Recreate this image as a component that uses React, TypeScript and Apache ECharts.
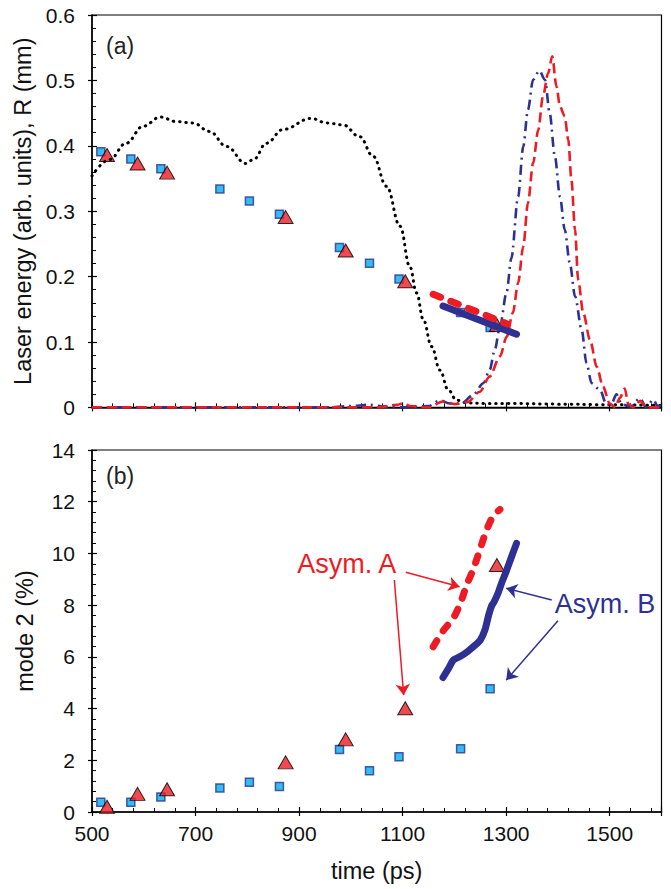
import React, { useEffect, useRef } from "react";
import * as echarts from "echarts";

const FONT = 'Arial, "Liberation Sans", Helvetica, sans-serif';
const RED = "#ED1C24";
const BLUE = "#2E3192";
const CYAN = "#00AEEF";

// ---- panel (a) ----
const laserT = [500, 534, 566, 599, 632, 663, 695, 727, 760, 797, 812, 837, 869, 923, 953, 985, 1017, 1043, 1069, 1095, 1114, 1127, 1140, 1156, 1172, 1188, 1204, 1224, 1260, 1300, 1400, 1500, 1600];
const laserE = [0.354, 0.379, 0.404, 0.43, 0.444, 0.437, 0.435, 0.422, 0.399, 0.373, 0.379, 0.404, 0.425, 0.442, 0.435, 0.432, 0.414, 0.384, 0.338, 0.277, 0.215, 0.175, 0.134, 0.093, 0.057, 0.027, 0.011, 0.007, 0.006, 0.006, 0.005, 0.004, 0.003];

const curveBT = [500, 950, 1000, 1035, 1070, 1100, 1150, 1172, 1191, 1214, 1236, 1256, 1268, 1278, 1288, 1301, 1310, 1323, 1333, 1342, 1352, 1364, 1375, 1384, 1394, 1404, 1413, 1423, 1433, 1446, 1455, 1465, 1481, 1494, 1503, 1513, 1523, 1540, 1558, 1571, 1584, 1594, 1600];
const curveBV = [0, 0, 0.002, 0.004, 0.001, 0, 0.002, 0.011, 0.006, 0.006, 0.019, 0.037, 0.057, 0.088, 0.124, 0.177, 0.228, 0.322, 0.399, 0.455, 0.501, 0.515, 0.501, 0.45, 0.384, 0.322, 0.272, 0.22, 0.17, 0.118, 0.068, 0.037, 0.027, 0.004, 0.005, 0.02, 0.005, 0.001, 0.014, 0, 0.012, 0, 0.005];

const curveAT = [500, 1050, 1090, 1100, 1115, 1150, 1178, 1201, 1225, 1249, 1268, 1288, 1301, 1313, 1323, 1333, 1342, 1352, 1362, 1371, 1381, 1389, 1397, 1404, 1413, 1420, 1426, 1433, 1439, 1449, 1462, 1475, 1487, 1500, 1510, 1520, 1529, 1536, 1546, 1559, 1570, 1600];
const curveAV = [0, 0, 0.004, 0.006, 0.002, 0, 0.009, 0.005, 0.008, 0.024, 0.047, 0.078, 0.108, 0.145, 0.19, 0.246, 0.3125, 0.3735, 0.4245, 0.4755, 0.511, 0.537, 0.491, 0.46, 0.445, 0.409, 0.348, 0.2715, 0.195, 0.144, 0.103, 0.062, 0.032, 0.006, 0, 0.015, 0.029, 0.005, 0, 0.01, 0, 0];

const radiusBT = [1178, 1320];
const radiusBV = [0.155, 0.112];
const radiusAT = [1159, 1301];
const radiusAV = [0.173, 0.128];

const squareT = [517, 575, 633, 747, 804, 862, 978, 1036, 1093, 1212, 1269];
const squareR = [0.391, 0.38, 0.365, 0.334, 0.3155, 0.2955, 0.2445, 0.2205, 0.1965, 0.145, 0.122];
const triT = [529, 588, 645, 874, 990, 1105, 1282];
const triR = [0.386, 0.373, 0.359, 0.291, 0.24, 0.193, 0.126];

// ---- panel (b) ----
const squareMode = [0.375, 0.375, 0.58, 0.93, 1.15, 0.99, 2.42, 1.6, 2.14, 2.45, 4.77];
const triMode = [0.2, 0.7, 0.88, 1.92, 2.81, 4.01, 9.55];

const asymAT = [1159, 1178, 1198, 1212, 1224, 1236, 1249, 1262, 1275, 1288];
const asymAMode = [6.39, 7.0, 7.5, 8.1, 8.8, 9.36, 10.13, 10.9, 11.45, 11.7];
const asymBT = [1178, 1190, 1198, 1210, 1225, 1240, 1250, 1259, 1266, 1272, 1276, 1285, 1292, 1300, 1310, 1320];
const asymBMode = [5.2, 5.6, 5.88, 6.0, 6.2, 6.45, 6.65, 7.04, 7.6, 7.98, 8.1, 8.5, 8.9, 9.3, 9.85, 10.39];

// annotation arrows (data coordinates of panel b): [x1, y1, x2, y2]
const arrowsA = [
  [1106, 9.27, 1210, 8.71],
  [1084, 8.97, 1102, 4.52],
];
const arrowsB = [
  [1388, 8.2, 1300, 8.65],
  [1400, 7.4, 1300, 5.1],
];
const labelA = { text: "Asym. A", t: 992, v: 9.59 };
const labelB = { text: "Asym. B", t: 1491, v: 8.04 };

const X_MIN = 500, X_MAX = 1600, X_INT = 200;
const zip = (a: number[], b: number[]) => a.map((v, i) => [v, b[i]]);

export default function App() {
  const ref = useRef<HTMLDivElement>(null);
  useEffect(() => {
    if (!ref.current) return;
    const chart = echarts.init(ref.current, null, { renderer: "svg" });

    const gridA = { left: 92, right: 9.5, top: 15, height: 392.4 };
    const gridB = { left: 92, right: 9.5, top: 450, height: 362 };
    const plain = (v: number) => String(v);

    const mainX = (gridIndex: number, showLabel: boolean, name: string) => ({
      type: "value",
      gridIndex,
      min: X_MIN,
      max: X_MAX,
      interval: X_INT,
      name,
      nameLocation: "middle",
      nameGap: 47,
      nameTextStyle: { fontFamily: FONT, fontSize: 23.5, color: "#111" },
      axisLine: { show: true, onZero: false, lineStyle: { color: "#000", width: 1.5 } },
      axisTick: { show: true, inside: true, length: 5, lineStyle: { color: "#000", width: 1.2 } },
      minorTick: { show: true, splitNumber: 5, length: 4, lineStyle: { color: "#000", width: 1 } },
      axisLabel: { show: showLabel, showMaxLabel: false, margin: 11, fontFamily: FONT, fontSize: 21, color: "#111", formatter: plain },
      splitLine: { show: false },
    });
    const mainY = (gridIndex: number, max: number, interval: number, name: string) => ({
      type: "value",
      gridIndex,
      min: 0,
      max,
      interval,
      name,
      nameLocation: "middle",
      nameGap: 55,
      nameTextStyle: { fontFamily: FONT, fontSize: 23.5, color: "#111" },
      axisLine: { show: true, onZero: false, lineStyle: { color: "#000", width: 1.5 } },
      axisTick: { show: true, inside: true, length: 5, lineStyle: { color: "#000", width: 1.2 } },
      minorTick: { show: true, splitNumber: 5, length: 4, lineStyle: { color: "#000", width: 1 } },
      axisLabel: { show: true, margin: 17, fontFamily: FONT, fontSize: 21, color: "#111", formatter: plain },
      splitLine: { show: false },
    });
    const outX = (gridIndex: number) => ({
      type: "value", gridIndex, min: X_MIN, max: X_MAX, interval: X_INT,
      axisLine: { show: false }, axisLabel: { show: false }, splitLine: { show: false },
      axisTick: { show: true, inside: false, length: 4, lineStyle: { color: "#000", width: 1.2 } },
    });
    const outY = (gridIndex: number, max: number, interval: number) => ({
      type: "value", gridIndex, min: 0, max, interval,
      axisLine: { show: false }, axisLabel: { show: false }, splitLine: { show: false },
      axisTick: { show: true, inside: false, length: 4, lineStyle: { color: "#000", width: 1.2 } },
    });

    const square = {
      symbol: "rect", symbolSize: 8,
      itemStyle: { color: CYAN, borderColor: BLUE, borderWidth: 1.5 },
    };
    const tri = {
      symbol: "triangle", symbolSize: [15, 13],
      itemStyle: { color: RED, borderColor: "#000", borderWidth: 1 },
    };
    const arrowData = (arr: number[][]) =>
      arr.map((a) => [{ coord: [a[0], a[1]] }, { coord: [a[2], a[3]] }]);

    chart.setOption({
      animation: false,
      backgroundColor: "#fff",
      grid: [
        { ...gridA, show: true, borderColor: "#000", borderWidth: 1.2 },
        { ...gridB, show: true, borderColor: "#000", borderWidth: 1.2 },
        { ...gridA, show: false },
        { ...gridB, show: false },
      ],
      xAxis: [mainX(0, false, ""), mainX(1, true, "time (ps)"), outX(2), outX(3)],
      yAxis: [
        mainY(0, 0.6, 0.1, "Laser energy (arb. units), R (mm)"),
        mainY(1, 14, 2, "mode 2 (%)"),
        outY(2, 0.6, 0.1),
        outY(3, 14, 2),
      ],
      series: [
        {
          type: "line", xAxisIndex: 0, yAxisIndex: 0, data: zip(laserT, laserE),
          showSymbol: false, smooth: 0.4, smoothMonotone: "x",
          lineStyle: { color: "#000", width: 3, type: [0.5, 5.8], cap: "round" },
        },
        {
          type: "line", xAxisIndex: 0, yAxisIndex: 0, data: zip(curveBT, curveBV),
          showSymbol: false, smooth: 0.3, smoothMonotone: "x",
          lineStyle: { color: BLUE, width: 2.6, type: [10, 5, 2, 5] },
        },
        {
          type: "line", xAxisIndex: 0, yAxisIndex: 0, data: zip(curveAT, curveAV),
          showSymbol: false, smooth: 0.3, smoothMonotone: "x",
          lineStyle: { color: RED, width: 2.6, type: [10, 5] },
        },
        {
          type: "line", xAxisIndex: 0, yAxisIndex: 0, data: zip(radiusBT, radiusBV),
          showSymbol: false, lineStyle: { color: BLUE, width: 7, cap: "round" },
        },
        {
          type: "line", xAxisIndex: 0, yAxisIndex: 0, data: zip(radiusAT, radiusAV),
          showSymbol: false, lineStyle: { color: RED, width: 7, type: [8, 11], cap: "round" },
        },
        { type: "scatter", xAxisIndex: 0, yAxisIndex: 0, data: zip(squareT, squareR), ...square },
        { type: "scatter", xAxisIndex: 0, yAxisIndex: 0, data: zip(triT, triR), ...tri },

        {
          type: "line", xAxisIndex: 1, yAxisIndex: 1, data: zip(asymAT, asymAMode),
          showSymbol: false, smooth: 0.3,
          lineStyle: { color: RED, width: 7, type: [7, 12], cap: "round" },
          markLine: {
            silent: true, symbol: ["none", "arrow"], symbolSize: 11,
            label: { show: false },
            lineStyle: { color: RED, width: 1.5, type: "solid" },
            data: arrowData(arrowsA),
          },
        },
        {
          type: "line", xAxisIndex: 1, yAxisIndex: 1, data: zip(asymBT, asymBMode),
          showSymbol: false, smooth: 0.2,
          lineStyle: { color: BLUE, width: 7, cap: "round", join: "round" },
          markLine: {
            silent: true, symbol: ["none", "arrow"], symbolSize: 11,
            label: { show: false },
            lineStyle: { color: BLUE, width: 1.5, type: "solid" },
            data: arrowData(arrowsB),
          },
        },
        { type: "scatter", xAxisIndex: 1, yAxisIndex: 1, data: zip(squareT, squareMode), ...square },
        { type: "scatter", xAxisIndex: 1, yAxisIndex: 1, data: zip(triT, triMode), ...tri },
      ],
    });

    const pA = chart.convertToPixel({ xAxisIndex: 1, yAxisIndex: 1 }, [labelA.t, labelA.v]) as number[];
    const pB = chart.convertToPixel({ xAxisIndex: 1, yAxisIndex: 1 }, [labelB.t, labelB.v]) as number[];
    chart.setOption({
      graphic: [
        { type: "text", left: 106, top: 34, style: { text: "(a)", font: `23px ${FONT}`, fill: "#222" } },
        { type: "text", left: 106, top: 464, style: { text: "(b)", font: `23px ${FONT}`, fill: "#222" } },
        {
          type: "text", x: pA[0], y: pA[1],
          style: { text: labelA.text, font: `27px ${FONT}`, fill: RED, align: "center", verticalAlign: "middle" },
        },
        {
          type: "text", x: pB[0], y: pB[1],
          style: { text: labelB.text, font: `27px ${FONT}`, fill: BLUE, align: "center", verticalAlign: "middle" },
        },
      ],
    });

    return () => chart.dispose();
  }, []);

  return (
    <div
      ref={ref}
      style={{ position: "fixed", left: 0, top: 0, width: 671, height: 889, background: "#fff" }}
    />
  );
}
